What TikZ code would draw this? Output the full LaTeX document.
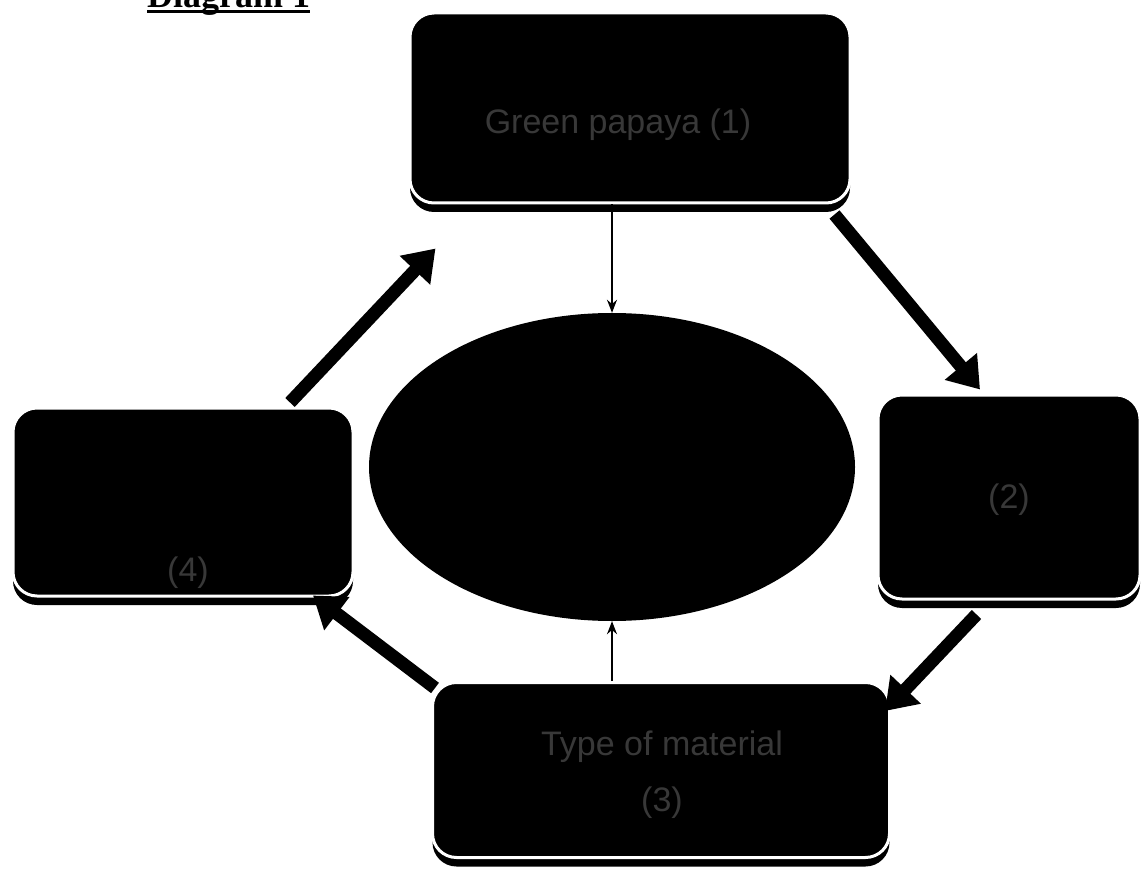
\documentclass[tikz,border=0pt]{standalone}
\usepackage{fontspec}
\setmainfont{Liberation Serif}
\setsansfont{Liberation Sans}
\usetikzlibrary{shapes.geometric,arrows.meta,shadows,calc}
\begin{document}
\begin{tikzpicture}[x=1pt,y=-1pt,
  box/.style={rounded corners=24pt, fill=black, draw=white, line width=3pt, inner sep=0pt,
    drop shadow={shadow xshift=0pt, shadow yshift=-9pt, fill=black, opacity=1}},
  lbl/.style={text=black!78, font=\sffamily\fontsize{34}{56}\selectfont, align=center, inner sep=0pt},
  bigarrow/.style={line width=13pt, -{Triangle[length=30pt,width=40pt]}},
  thinarrow/.style={line width=1.5pt, -{Stealth[length=13pt,width=10pt]}}]
\useasboundingbox (0,0) rectangle (1143,874);

% title
\node[font=\bfseries\fontsize{36}{40}\selectfont, anchor=base west, inner sep=0pt] (title) at (147,8) {Diagram 1};
\draw[line width=3pt] ([yshift=-4pt]title.base west) -- ([yshift=-4pt]title.base east);

% boxes
\node[box, minimum width=440pt, minimum height=190pt] (top) at (630,108) {};
\node[box, minimum width=340pt, minimum height=188pt] (left) at (183,502) {};
\node[box, minimum width=262pt, minimum height=204pt] (right) at (1009,497) {};
\node[box, minimum width=457pt, minimum height=175pt] (bot) at (661,770) {};
\node[ellipse, fill=black, inner sep=0pt, minimum width=486pt, minimum height=308pt] (mid) at (612,467) {};

% labels
\node[lbl] (toptext) at (618,125) {Green papaya (1)};
\node[lbl] (bottext) at (662,775) {Type of material\\(3)};
\node[lbl] (lefttext) at (188,573) {(4)};
\node[lbl] (righttext) at (1009,500) {(2)};

% cycle arrows
\draw[bigarrow] ([shift={(107,-4)}]left.north) -- ([shift={(27,44)}]top.south west);
\draw[bigarrow] ([shift={(-17,10)}]top.south east) -- ([shift={(-29,-4)}]right.north);
\draw[bigarrow] ([shift={(-165,14)}]right.south east) -- ([shift={(-6,30)}]bot.north east);
\draw[bigarrow] ([shift={(4,7)}]bot.north west) -- ([shift={(130,-2)}]left.south);

% thin arrows to centre
\draw[thinarrow] (top.south -| mid.north) -- (mid.north);
\draw[thinarrow] (bot.north -| mid.south) -- (mid.south);
\end{tikzpicture}
\end{document}
